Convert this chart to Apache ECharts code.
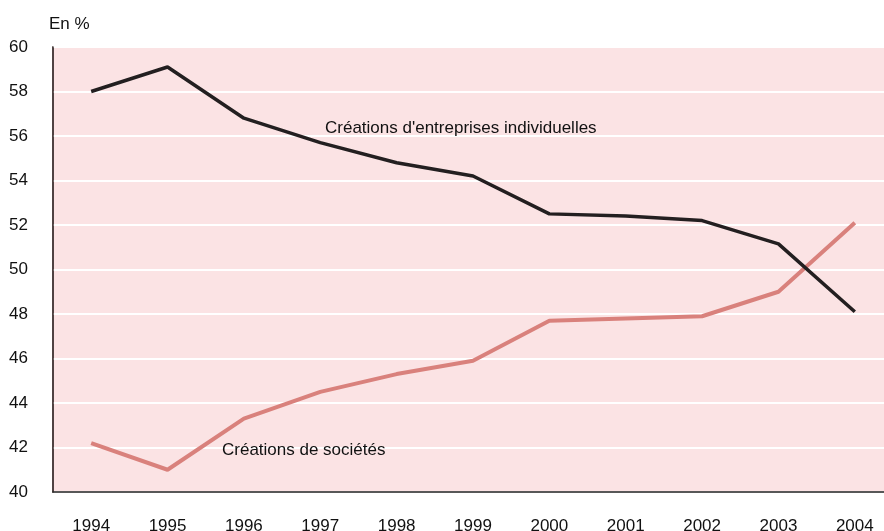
<!DOCTYPE html>
<html>
<head>
<meta charset="utf-8">
<script src="https://cdn.jsdelivr.net/npm/echarts@6/dist/echarts.min.js"></script>
<style>
    html, body { margin: 0; padding: 0; background: #fff; }
    #chart { width: 884px; height: 531px; }
</style>
</head>
<body>
<div id="chart"></div>
<script>
// années
var years = ['1994', '1995', '1996', '1997', '1998', '1999', '2000', '2001', '2002', '2003', '2004'];
// part des créations d'entreprises individuelles (en %)
var individuelles = [58.0, 59.1, 56.8, 55.7, 54.8, 54.2, 52.5, 52.4, 52.2, 51.15, 48.1];
// part des créations de sociétés (en %)
var societes = [42.2, 41.0, 43.3, 44.5, 45.3, 45.9, 47.7, 47.8, 47.9, 49.0, 52.1];
var yMin = 40, yMax = 60, yStep = 2;

var font = '"Liberation Sans", Arial, Helvetica, sans-serif';
var chart = echarts.init(document.getElementById('chart'));

var option = {
    animation: false,
    backgroundColor: '#ffffff',
    textStyle: { fontFamily: font },
    grid: {
        show: true,
        left: 53,
        top: 47,
        width: 840,
        height: 445,
        outerBoundsMode: 'none',
        containLabel: false,
        backgroundColor: '#fbe3e4',
        borderColor: '#6e6e6e',
        borderWidth: 1.5
    },
    xAxis: {
        type: 'category',
        data: years,
        boundaryGap: true,
        axisLine: { lineStyle: { color: '#222', width: 1.5 } },
        axisTick: { inside: true, length: 8, lineStyle: { color: '#555', width: 1 } },
        axisLabel: { color: '#111', fontSize: 17, margin: 26, fontFamily: font },
        splitLine: { show: false }
    },
    yAxis: {
        type: 'value',
        min: yMin,
        max: yMax,
        interval: yStep,
        name: 'En %',
        nameLocation: 'end',
        nameGap: 14,
        nameTextStyle: { color: '#111', fontSize: 17, align: 'left', padding: [0, 0, 0, -4], fontFamily: font },
        axisLine: { show: true, lineStyle: { color: '#3a2a2a', width: 1.5 } },
        axisTick: { show: false },
        axisLabel: { color: '#111', fontSize: 17, margin: 25, fontFamily: font },
        splitLine: { lineStyle: { color: '#ffffff', width: 2 } }
    },
    series: [
        {
            name: "Créations d'entreprises individuelles",
            type: 'line',
            data: individuelles,
            symbol: 'none',
            lineStyle: { color: '#231f20', width: 3.5 },
            z: 3
        },
        {
            name: 'Créations de sociétés',
            type: 'line',
            data: societes,
            symbol: 'none',
            lineStyle: { color: '#d9817c', width: 4 },
            z: 2
        }
    ],
    graphic: [
        {
            type: 'text',
            left: 325,
            top: 120,
            z: 10,
            style: { text: "Créations d'entreprises individuelles", fill: '#111', font: '17px ' + font }
        },
        {
            type: 'text',
            left: 222,
            top: 442,
            z: 10,
            style: { text: 'Créations de sociétés', fill: '#111', font: '17px ' + font }
        }
    ]
};
chart.setOption(option);
</script>
</body>
</html>
